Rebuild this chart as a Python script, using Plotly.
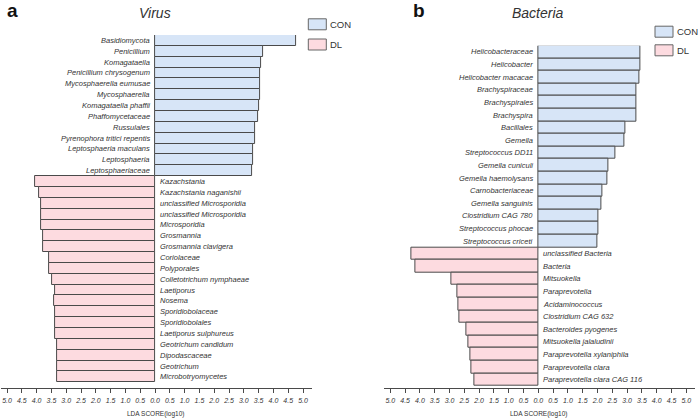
import plotly.graph_objects as go

W, H = 699, 419

# ---------------- data ----------------
virus_con_names = ["Basidiomycota", "Penicillium", "Komagataella", "Penicillium chrysogenum",
                   "Mycosphaerella eumusae", "Mycosphaerella", "Komagataella phaffii",
                   "Phaffomycetaceae", "Russulales", "Pyrenophora tritici repentis",
                   "Leptosphaeria maculans", "Leptosphaeria", "Leptosphaeriaceae"]
virus_con_lda = [4.75, 3.64, 3.57, 3.56, 3.54, 3.54, 3.52, 3.49, 3.39, 3.37, 3.32, 3.30, 3.29]

virus_dl_names = ["Kazachstania", "Kazachstania naganishii", "unclassified Microsporidia",
                  "unclassified Microsporidia", "Microsporidia", "Grosmannia",
                  "Grosmannia clavigera", "Coriolaceae", "Polyporales",
                  "Colletotrichum nymphaeae", "Laetiporus", "Nosema", "Sporidiobolaceae",
                  "Sporidiobolales", "Laetiporus sulphureus", "Geotrichum candidum",
                  "Dipodascaceae", "Geotrichum", "Microbotryomycetes"]
virus_dl_lda = [4.04, 3.90, 3.84, 3.84, 3.84, 3.79, 3.79, 3.59, 3.57, 3.47, 3.39, 3.40,
                3.39, 3.39, 3.38, 3.31, 3.31, 3.30, 3.30]

bact_con_names = ["Helicobacteraceae", "Helicobacter", "Helicobacter macacae",
                  "Brachyspiraceae", "Brachyspirales", "Brachyspira", "Bacillales", "Gemella",
                  "Streptococcus DD11", "Gemella cuniculi", "Gemella haemolysans",
                  "Carnobacteriaceae", "Gemella sanguinis", "Clostridium CAG 780",
                  "Streptococcus phocae", "Streptococcus criceti"]
bact_con_lda = [3.44, 3.44, 3.41, 3.30, 3.30, 3.30, 2.93, 2.91, 2.61, 2.37, 2.35, 2.18,
                2.13, 2.04, 2.03, 1.99]

bact_dl_names = ["unclassified Bacteria", "Bacteria", "Mitsuokella", "Paraprevotella",
                 "Acidaminococcus", "Clostridium CAG 632", "Bacteroides pyogenes",
                 "Mitsuokella jalaludinii", "Paraprevotella xylaniphila",
                 "Paraprevotella clara", "Paraprevotella clara CAG 116"]
bact_dl_lda = [4.29, 4.14, 2.95, 2.75, 2.70, 2.67, 2.42, 2.36, 2.30, 2.27, 2.17]

tick_vals = [-5.0, -4.5, -4.0, -3.5, -3.0, -2.5, -2.0, -1.5, -1.0, -0.5, 0.0,
             0.5, 1.0, 1.5, 2.0, 2.5, 3.0, 3.5, 4.0, 4.5, 5.0]
tick_text = ["5.0", "4.5", "4.0", "3.5", "3.0", "2.5", "2.0", "1.5", "1.0", "0.5", "0.0",
             "0.5", "1.0", "1.5", "2.0", "2.5", "3.0", "3.5", "4.0", "4.5", "5.0"]

group_names = ["CON", "DL"]
panel_titles = ["Virus", "Bacteria"]
panel_letters = ["a", "b"]
axis_title = "LDA SCORE(log10)"

# ---------------- style ----------------
FONT = "Arial, Liberation Sans, Helvetica, sans-serif"
CON_FILL = "#d7e5f7"
DL_FILL = "#fddbe0"
EDGE = "#4a4a4a"
TXT = "#333333"

def px_x(p):
    return p / W

def px_y(p):
    return 1 - p / H

fig = go.Figure()

panels = [
    dict(con_n=virus_con_names, con_v=virus_con_lda, dl_n=virus_dl_names, dl_v=virus_dl_lda,
         xa="x", ya="y", zero=155.0, top=35.0, bottom=382.3, axis=388.3),
    dict(con_n=bact_con_names, con_v=bact_con_lda, dl_n=bact_dl_names, dl_v=bact_dl_lda,
         xa="x2", ya="y2", zero=538.3, top=45.7, bottom=386.0, axis=388.3),
]

SCALE = 29.6  # px per LDA unit
XR = [-5.2, 5.3]
annotations = []
layout_axes = {}

for k, p in enumerate(panels):
    n_con = len(p["con_n"])
    n_dl = len(p["dl_n"])
    n = n_con + n_dl
    y_con = list(range(n_con))
    y_dl = list(range(n_con, n))
    fig.add_trace(go.Bar(x=p["con_v"], y=y_con, orientation="h", width=1,
                         marker=dict(color=CON_FILL, line=dict(color=EDGE, width=1)),
                         xaxis=p["xa"], yaxis=p["ya"], showlegend=False, hoverinfo="skip"))
    fig.add_trace(go.Bar(x=[-v for v in p["dl_v"]], y=y_dl, orientation="h", width=1,
                         marker=dict(color=DL_FILL, line=dict(color=EDGE, width=1)),
                         xaxis=p["xa"], yaxis=p["ya"], showlegend=False, hoverinfo="skip"))
    row_h = (p["bottom"] - p["top"]) / n
    pad = (p["axis"] - p["bottom"]) / row_h
    xd = [px_x(p["zero"] + XR[0] * SCALE), px_x(p["zero"] + XR[1] * SCALE)]
    yd = [px_y(p["axis"]), px_y(p["top"])]
    sfx = "" if k == 0 else "2"
    layout_axes["xaxis" + sfx] = dict(
        domain=xd, range=XR, tickmode="array", tickvals=tick_vals, ticktext=tick_text,
        ticks="outside", ticklen=4, tickwidth=1, tickcolor=EDGE, showline=True,
        linecolor=EDGE, linewidth=1, showgrid=False, zeroline=False,
        anchor="y" + sfx, fixedrange=True, ticklabelstandoff=1,
        tickfont=dict(family=FONT, size=7, color=TXT, style="italic"))
    layout_axes["yaxis" + sfx] = dict(
        domain=yd, range=[n - 0.5 + pad, -0.5], visible=False, showgrid=False,
        zeroline=False, anchor="x" + sfx, fixedrange=True)
    xref = p["xa"]
    yref = p["ya"]
    for i, name in enumerate(p["con_n"]):
        annotations.append(dict(x=0, y=i, xref=xref, yref=yref, text=name, showarrow=False,
                                xanchor="right", yanchor="middle", xshift=-3,
                                font=dict(family=FONT, size=7.5, color=TXT, style="italic")))
    for j, name in enumerate(p["dl_n"]):
        annotations.append(dict(x=0, y=n_con + j, xref=xref, yref=yref, text=name,
                                showarrow=False, xanchor="left", yanchor="middle", xshift=3,
                                font=dict(family=FONT, size=7.5, color=TXT, style="italic")))

# titles, letters, axis titles
title_pos = [(155, 13), (538, 13)]
letter_pos = [(12.5, 11), (419, 11)]
for k in range(2):
    annotations.append(dict(x=px_x(title_pos[k][0]), y=px_y(title_pos[k][1]), xref="paper",
                            yref="paper", text=panel_titles[k], showarrow=False,
                            xanchor="center", yanchor="middle",
                            font=dict(family=FONT, size=14, color=TXT, style="italic")))
    annotations.append(dict(x=px_x(letter_pos[k][0]), y=px_y(letter_pos[k][1]), xref="paper",
                            yref="paper", text="<b>" + panel_letters[k] + "</b>",
                            showarrow=False, xanchor="center", yanchor="middle",
                            font=dict(family=FONT, size=19, color="#111111")))
    annotations.append(dict(x=px_x(panels[k]["zero"]), y=px_y(414), xref="paper",
                            yref="paper", text=axis_title, showarrow=False,
                            xanchor="center", yanchor="middle",
                            font=dict(family=FONT, size=6.5, color=TXT)))

# legends (drawn as boxes + text)
shapes = []
legend_spots = [(308.3, [24.3, 44.5]), (655.0, [31.7, 50.3])]
for lx, ys in legend_spots:
    for g, (name, col) in enumerate(zip(group_names, [CON_FILL, DL_FILL])):
        cy = ys[g]
        shapes.append(dict(type="rect", xref="paper", yref="paper",
                           x0=px_x(lx), x1=px_x(lx + 18), y0=px_y(cy + 5.5), y1=px_y(cy - 5.5),
                           fillcolor=col, line=dict(color="#666666", width=1)))
        annotations.append(dict(x=px_x(lx + 20.5), y=px_y(cy), xref="paper", yref="paper",
                                text=name, showarrow=False, xanchor="left", yanchor="middle",
                                borderpad=0,
                                font=dict(family=FONT, size=9.5, color=TXT)))

fig.update_layout(
    width=W, height=H, margin=dict(l=0, r=0, t=0, b=0),
    paper_bgcolor="white", plot_bgcolor="white",
    barmode="overlay", bargap=0, showlegend=False,
    annotations=annotations, shapes=shapes,
    **layout_axes,
)

fig.write_html("out.html", config={"displayModeBar": False},
               post_script="document.body.style.margin='0';document.body.style.overflow='hidden';")
